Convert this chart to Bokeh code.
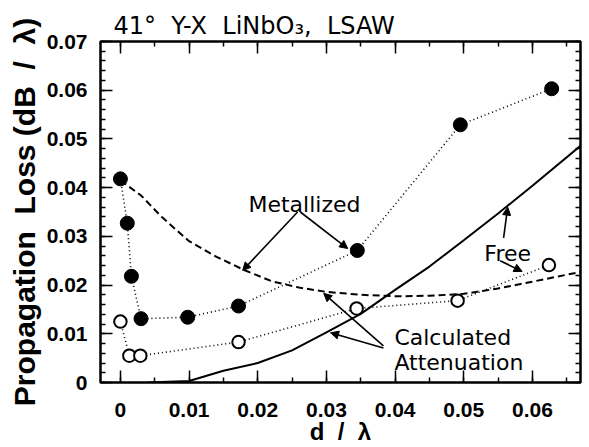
from bokeh.plotting import figure
from bokeh.models import (LinearAxis, FixedTicker, CustomJSTickFormatter, Arrow,
                          NormalHead, Label, Range1d)
from bokeh.embed import file_html
from bokeh.resources import INLINE

# ---- data ----
x_ticks = [0, 0.01, 0.02, 0.03, 0.04, 0.05, 0.06]
y_ticks = [0, 0.01, 0.02, 0.03, 0.04, 0.05, 0.06, 0.07]

# measured, metallized surface (filled circles)
met_x = [0, 0.001, 0.0016, 0.003, 0.0098, 0.0172, 0.0345, 0.0495, 0.0628]
met_y = [0.0418, 0.0327, 0.0218, 0.0131, 0.0134, 0.0157, 0.0271, 0.0529, 0.0603]

# measured, free surface (open circles)
free_x = [0, 0.0013, 0.0029, 0.0172, 0.0344, 0.0491, 0.0624]
free_y = [0.0125, 0.0055, 0.0055, 0.0083, 0.0152, 0.0168, 0.0241]

# calculated attenuation, metallized (dashed)
cm_x = [0, 0.003, 0.006, 0.01, 0.014, 0.018, 0.022, 0.026, 0.03, 0.035,
        0.04, 0.045, 0.05, 0.055, 0.06, 0.067]
cm_y = [0.0415, 0.0384, 0.034, 0.029, 0.0258, 0.0231, 0.0208, 0.0195, 0.0186,
        0.018, 0.0177, 0.0178, 0.0182, 0.0193, 0.0207, 0.0227]

# calculated attenuation, free (solid)
cf_x = [0.004, 0.01, 0.015, 0.02, 0.025, 0.03, 0.035, 0.04, 0.045, 0.05,
        0.055, 0.06, 0.067]
cf_y = [0, 0.0003, 0.0024, 0.004, 0.0066, 0.0103, 0.0141, 0.019, 0.0238,
        0.0292, 0.0347, 0.0404, 0.0486]

FONT = "Liberation Sans"
TFONT = "DejaVu Sans"
NB = "\u00a0"

p = figure(width=589, height=447, x_range=Range1d(-0.0029, 0.067),
           y_range=Range1d(0, 0.07), output_backend="svg", toolbar_location=None,
           min_border_left=100, min_border_right=9, min_border_top=41,
           min_border_bottom=62, x_axis_location=None, y_axis_location=None)
p.grid.visible = False
p.outline_line_color = "black"
p.outline_line_width = 2.5
p.background_fill_color = "white"
p.border_fill_color = "white"

p.title.text = f"41\u00b0{NB} Y-X{NB} LiNbO\u2083,{NB} LSAW"
p.title.text_font = TFONT
p.title.text_font_style = "normal"
p.title.text_font_size = "24px"
p.title.text_color = "black"
p.title.align = "left"
p.title.offset = 13
p.title.standoff = 3

fmt = CustomJSTickFormatter(code="return tick == 0 ? '0' : tick.toFixed(2);")

def make_axis(ticks, minor, show_labels):
    ax = LinearAxis(ticker=FixedTicker(ticks=ticks, minor_ticks=minor))
    ax.axis_line_color = None
    ax.major_tick_in = 12
    ax.major_tick_out = 0
    ax.minor_tick_in = 5
    ax.minor_tick_out = 0
    ax.major_tick_line_width = 1.5
    ax.minor_tick_line_width = 1.5
    ax.major_tick_line_color = "black"
    ax.minor_tick_line_color = "black"
    if show_labels:
        ax.formatter = fmt
        ax.major_label_text_font = FONT
        ax.major_label_text_font_style = "bold"
        ax.major_label_text_font_size = "21px"
        ax.major_label_text_color = "black"
        ax.axis_label_text_color = "black"
    else:
        ax.major_label_text_color = None
        ax.major_label_text_alpha = 0
        ax.major_label_text_font_size = "1px"
        ax.major_label_standoff = 0
    return ax

xminor = [i * 0.005 for i in range(0, 14)]
yminor = [i * 0.002 for i in range(0, 36)]

xb = make_axis(x_ticks, xminor, True)
xb.axis_label = f"d{NB}{NB}/{NB}{NB}\u03bb"
xb.axis_label_text_font = FONT
xb.axis_label_text_font_style = "bold"
xb.axis_label_text_font_size = "24px"
xb.axis_label_standoff = -2
xb.major_label_standoff = 20
p.add_layout(xb, "below")

yl = make_axis(y_ticks, yminor, True)
yl.axis_label = f"Propagation{NB} Loss (dB{NB} /{NB} \u03bb)"
yl.axis_label_text_font = FONT
yl.axis_label_text_font_style = "bold"
yl.axis_label_text_font_size = "30px"
yl.axis_label_standoff = 3
yl.major_label_standoff = 13
p.add_layout(yl, "left")

p.add_layout(make_axis(x_ticks, xminor, False), "above")
p.add_layout(make_axis(y_ticks, yminor, False), "right")

# curves
p.line(cm_x, cm_y, line_color="black", line_width=2, line_dash="7 4")
p.line(cf_x, cf_y, line_color="black", line_width=2)
p.line(met_x, met_y, line_color="black", line_width=1.6, line_dash="1 3")
p.line(free_x, free_y, line_color="black", line_width=1.6, line_dash="1 3")
p.scatter(met_x, met_y, size=14, fill_color="black", line_color="black")
p.scatter(free_x, free_y, size=12.5, fill_color="white", line_color="black",
          line_width=2)

# annotations
arrows = [
    (0.0258, 0.0350, 0.0178, 0.0230),
    (0.0262, 0.0350, 0.0331, 0.0275),
    (0.0558, 0.0297, 0.0564, 0.0360),
    (0.0553, 0.0250, 0.0585, 0.0228),
    (0.0383, 0.0075, 0.0296, 0.0183),
    (0.0383, 0.0071, 0.0306, 0.0102),
]
for x0, y0, x1, y1 in arrows:
    p.add_layout(Arrow(end=NormalHead(size=8, fill_color="black", line_color="black"),
                       x_start=x0, y_start=y0, x_end=x1, y_end=y1,
                       line_width=1.6, line_color="black"))

def lab(x, y, text, align="left", size="22px"):
    p.add_layout(Label(x=x, y=y, text=text, text_font=TFONT, text_font_size=size,
                       text_align=align, text_baseline="alphabetic",
                       text_color="black"))

lab(0.0268, 0.0366, "Metallized", align="center")
lab(0.0564, 0.0265, "Free", align="center")
lab(0.0399, 0.0092, "Calculated")
lab(0.0399, 0.0041, "Attenuation")

open("out.html", "w").write(file_html(p, INLINE))
